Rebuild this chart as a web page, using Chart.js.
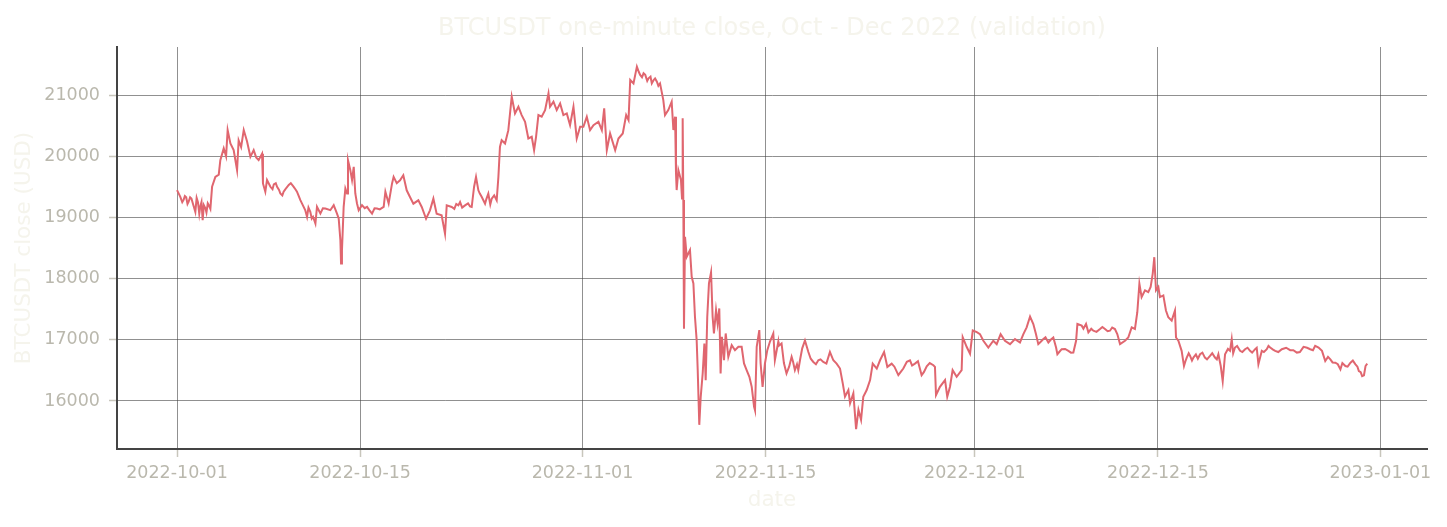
<!DOCTYPE html>
<html>
<head>
<meta charset="utf-8">
<script src="https://cdn.jsdelivr.net/npm/chart.js@4.4.1/dist/chart.umd.min.js"></script>
<style>
  html, body { margin: 0; padding: 0; background: #fff; }
  #wrap { width: 1447px; height: 527px; }
</style>
</head>
<body>
<div id="wrap"><canvas id="chart" width="1447" height="527"></canvas></div>
<script>
// days since 2022-10-01 00:00 and close in USD
const days = [
  0, 0.25, 0.51, 0.7, 0.89, 1.1, 1.4, 1.6, 1.78, 1.96, 2.17, 2.35, 2.55, 2.68, 2.93, 3.19, 3.31, 3.57, 3.75, 3.87,
  4.08, 4.33, 4.59, 4.71, 4.9, 5.1, 5.35, 5.61, 5.86, 6.05, 6.24, 6.5, 6.57, 6.75, 6.88, 7.14, 7.4, 7.65, 7.9, 8.15,
  8.35, 8.54, 8.92, 9.17, 9.43, 9.68, 9.94, 10.19, 10.4, 10.58, 10.7, 10.96, 11.15, 11.34, 11.72, 11.98, 12.23, 12.36, 12.49, 12.54,
  12.61, 12.74, 12.87, 13.0, 13.07, 13.25, 13.38, 13.51, 13.63, 13.76, 13.89, 14.14, 14.35, 14.53, 14.7, 14.91, 15.1, 15.29, 15.5, 15.8,
  15.93, 16.18, 16.44, 16.56, 16.8, 17.05, 17.3, 17.56, 17.81, 18.07, 18.45, 18.71, 19.04, 19.34, 19.6, 19.85, 20.23, 20.49, 20.62, 21.0,
  21.51, 21.64, 22.02, 22.53, 22.71, 22.86, 23.04, 23.3, 23.55, 23.8, 24.06, 24.44, 24.57, 24.69, 24.82, 25.08, 25.33, 25.46, 25.59, 25.84,
  26.1, 26.35, 26.61, 26.86, 27.12, 27.3, 27.45, 27.63, 27.88, 28.14, 28.4, 28.52, 28.78, 29.03, 29.29, 29.54, 29.8, 30.05, 30.31, 30.56,
  30.82, 31.07, 31.33, 31.58, 31.84, 32.22, 32.48, 32.66, 32.86, 33.11, 33.5, 33.75, 34.08, 34.34, 34.52, 34.65, 34.9, 35.16, 35.41, 35.67,
  36.05, 36.44, 36.69, 36.93, 37.18, 37.31, 37.56, 37.82, 37.95, 38.08, 38.15, 38.2, 38.33, 38.53, 38.61, 38.66, 38.71, 38.76, 38.84, 38.97,
  39.22, 39.35, 39.48, 39.6, 39.73, 39.81, 39.93, 40.04, 40.19, 40.32, 40.42, 40.54, 40.67, 40.83, 40.95, 41.05, 41.21, 41.33, 41.46, 41.56,
  41.66, 41.82, 41.95, 42.15, 42.41, 42.66, 42.92, 43.17, 43.35, 43.55, 43.76, 43.94, 44.12, 44.19, 44.32, 44.52, 44.62, 44.77, 44.95, 45.13,
  45.33, 45.59, 45.71, 45.97, 46.22, 46.6, 46.99, 47.24, 47.5, 47.63, 48.01, 48.27, 48.65, 49.03, 49.41, 49.92, 50.18, 50.43, 50.69, 50.9,
  51.07, 51.33, 51.46, 51.71, 51.92, 52.1, 52.3, 52.47, 52.73, 52.99, 53.19, 53.5, 53.75, 54.06, 54.31, 54.64, 55.15, 55.53, 56.04, 56.42,
  56.93, 57.32, 57.83, 57.95, 58.03, 58.33, 58.72, 58.89, 59.1, 59.3, 59.61, 59.99, 60.07, 60.38, 60.63, 60.84, 61.15, 61.39, 61.65, 62.03,
  62.41, 62.67, 62.97, 63.3, 63.69, 64.07, 64.45, 64.71, 64.96, 65.22, 65.47, 65.67, 65.85, 66.24, 66.62, 67.0, 67.21, 67.31, 67.64, 68.15,
  68.53, 68.74, 68.84, 69.17, 69.5, 69.68, 70.06, 70.57, 70.95, 71.33, 71.71, 71.89, 72.1, 72.48, 72.73, 72.99, 73.24, 73.42, 73.58, 73.75,
  74.01, 74.26, 74.44, 74.6, 74.72, 74.85, 75.03, 75.15, 75.41, 75.61, 75.79, 76.05, 76.3, 76.38, 76.56, 76.81, 76.99, 77.2, 77.45, 77.71,
  78.22, 78.59, 78.98, 79.36, 79.62, 79.8, 79.95, 80.13, 80.51, 80.64, 80.89, 81.28, 81.66, 82.04, 82.43, 82.68, 82.94, 83.32, 83.58, 83.96,
  84.47, 85.11, 85.62, 86.13, 86.64, 87.02, 87.28, 87.54, 87.79, 88.18, 88.56, 88.95, 89.33, 89.72, 90.1, 90.36, 90.61, 90.87, 91.0,
];
const closes = [
  19445, 19336, 19290, 19330, 19260, 19310, 19090, 19250, 19180, 18955, 19150, 19230, 19140, 19500, 19663, 19700, 19936, 20128, 20000, 20427,
  20210, 20100, 19772, 20260, 20150, 20427, 20245, 19990, 20100, 19980, 19936, 20040, 19555, 19420, 19610, 19500, 19540, 19500, 19391, 19420,
  19480, 19530, 19500, 19420, 19282, 19173, 19008, 19090, 19010, 18900, 19173, 19063, 19150, 19145, 19118, 19200, 19063, 18982, 18627, 18245,
  18460, 19173, 19473, 19391, 19936, 19772, 19610, 19827, 19391, 19227, 19118, 19200, 19150, 19173, 19120, 19063, 19150, 19145, 19130, 19173,
  19420, 19227, 19555, 19663, 19560, 19607, 19689, 19443, 19333, 19224, 19279, 19170, 18978, 19115, 19306, 19060, 19033, 18732, 19197, 19170,
  19197, 19251, 19197, 19170, 19497, 19661, 19443, 19333, 19224, 19388, 19306, 19279, 19661, 20153, 20262, 20208, 20426, 20699, 20973, 20699,
  20809, 20672, 20563, 20290, 20317, 20098, 20317, 20672, 20645, 20754, 21027, 20809, 20891, 20754, 20863, 20672, 20699, 20508, 20809, 20290,
  20481, 20481, 20645, 20426, 20508, 20563, 20426, 20781, 20098, 20372, 20098, 20290, 20372, 20672, 20590, 21246, 21191, 21464, 21328, 21355,
  21273, 21246, 21218, 21190, 20918, 20673, 20755, 20891, 20428, 20646, 19719, 19447, 19774, 19610, 19310, 20620, 19283, 17180, 18684, 18357,
  18466, 18030, 17921, 17376, 16994, 16504, 15610, 16068, 16449, 16940, 16340, 17376, 17921, 18100, 17376, 17103, 17485, 17267, 17512, 16449,
  17049, 16667, 17103, 16721, 16912, 16830, 16885, 16885, 16613, 16504, 16395, 16231, 15905, 15850, 16885, 17158, 16613, 16231, 16613, 16830,
  16967, 17103, 16667, 16967, 16940, 16449, 16721, 16504, 16504, 16665, 16989, 16800, 16638, 16665, 16638, 16800, 16665, 16611, 16530, 16287,
  16070, 16178, 15962, 16124, 15540, 15854, 15692, 16070, 16178, 16341, 16611, 16530, 16665, 16800, 16557, 16611, 16422, 16530, 16665, 16611,
  16422, 16568, 16584, 16557, 16097, 16232, 16341, 16070, 16232, 16503, 16395, 16503, 17043, 16881, 16773, 17151, 17124, 17093, 16984, 16874,
  16984, 16929, 17093, 16984, 16929, 17011, 16956, 17093, 17203, 17380, 17258, 17093, 16929, 17011, 16956, 17038, 16874, 16764, 16846, 16819,
  16791, 16984, 17258, 17231, 17258, 17121, 17148, 17176, 17176, 17148, 17176, 17093, 16929, 16984, 17038, 17203, 17176, 17450, 17918, 17698,
  17808, 17780, 17863, 18082, 18350, 17808, 17863, 17698, 17725, 17478, 17368, 17313, 17478, 17038, 16984, 16819, 16571, 16709, 16740, 16709,
  16764, 16709, 16736, 16709, 16764, 16571, 16324, 16764, 16819, 17011, 16874, 16819, 16846, 16819, 16846, 16599, 16819, 16846, 16874, 16819,
  16846, 16830, 16791, 16885, 16846, 16901, 16874, 16819, 16654, 16681, 16626, 16516, 16571, 16626, 16599, 16489, 16406, 16571, 16610,
];

// finer readings of the noise band in a few stretches, merged in by date below
const detailDays = [
  0.15, 0.4, 0.6, 0.8, 1.0, 1.25, 1.5, 1.7, 1.87, 2.05, 2.25, 2.45,
  7.3, 7.55, 7.8, 8.05, 8.25, 8.7, 9.05, 9.3, 9.55, 9.8, 10.05, 10.3,
  21.2, 21.35, 21.8, 22.25, 22.4, 23.15, 23.65, 23.95, 24.25,
  35.3, 35.55, 35.8, 35.95, 36.2, 36.3, 36.55, 36.8,
  46.0, 46.4, 46.8, 47.1, 47.4, 47.8, 48.45, 48.85, 49.2, 49.65,
  54.85, 55.35, 55.8, 56.2, 56.65, 57.1, 57.55,
  66.0, 66.4, 66.8, 67.45, 67.9, 68.35, 69.3, 69.9, 70.3, 70.75, 71.15, 71.5,
  77.1, 77.35, 77.6, 77.9, 78.05, 78.4, 78.75, 79.15, 79.5, 80.35, 80.75, 81.05, 81.45, 81.85, 82.2, 82.55,
  83.1, 83.45, 83.8, 84.2, 84.8, 85.35, 85.85, 86.4, 86.85, 88.0, 88.35, 88.75, 89.1, 89.5, 89.9, 90.25, 90.5, 90.75,
];
const detailCloses = [
  19380, 19250, 19350, 19220, 19330, 19200, 19320, 19060, 19250, 19200, 19080, 19190,
  19460, 19560, 19450, 19360, 19450, 19560, 19460, 19350, 19230, 19120, 19160, 18980,
  19140, 19220, 19160, 19230, 19180, 19390, 19300, 19210, 19360,
  21380, 21290, 21330, 21230, 21300, 21190, 21270, 21150,
  16900, 16620, 16560, 16640, 16600, 16860, 16690, 16600, 16680, 16610,
  16560, 16480, 16640, 16580, 16650, 16470, 16620,
  16960, 17040, 17000, 16800, 16850, 16790, 17180, 17180, 17130, 17210, 17140, 17200,
  16650, 16780, 16660, 16760, 16690, 16790, 16680, 16780, 16680, 16850, 16780, 16900, 16800, 16870, 16790, 16870,
  16800, 16900, 16840, 16800, 16870, 16830, 16800, 16870, 16830, 16720, 16630, 16600, 16620, 16560, 16660, 16560, 16470, 16420,
];

const tickDays = [0, 14, 31, 45, 61, 75, 92];
const tickLabels = ["2022-10-01", "2022-10-15", "2022-11-01", "2022-11-15", "2022-12-01", "2022-12-15", "2023-01-01"];
const yTicks = [16000, 17000, 18000, 19000, 20000, 21000];

const TITLE = "BTCUSDT one-minute close, Oct - Dec 2022 (validation)";
const FONT = "'DejaVu Sans', sans-serif";
const TICK_COLOR = "#bab8ad";
const FAINT = "#f5f4ec";
const GRID = "rgba(70,70,70,0.6)";

const points = days
  .map((d, i) => ({ x: d, y: closes[i] }))
  .concat(detailDays.map((d, i) => ({ x: d, y: detailCloses[i] })))
  .sort((a, b) => a.x - b.x);

const titlePlugin = {
  id: "plotTitle",
  afterDraw(chart) {
    const { ctx, chartArea } = chart;
    ctx.save();
    ctx.font = `24px ${FONT}`;
    ctx.fillStyle = FAINT;
    ctx.textAlign = "center";
    ctx.textBaseline = "alphabetic";
    ctx.fillText(TITLE, (chartArea.left + chartArea.right) / 2, 35);
    ctx.restore();
  },
};

new Chart(document.getElementById("chart"), {
  type: "line",
  data: {
    datasets: [
      {
        label: "close",
        data: points,
        borderColor: "#e0666f",
        borderWidth: 2,
        pointRadius: 0,
        tension: 0,
        fill: false,
      },
    ],
  },
  options: {
    responsive: false,
    animation: false,
    devicePixelRatio: 1,
    layout: { padding: { top: 47, right: 20, left: 0, bottom: 0 } },
    plugins: { legend: { display: false }, tooltip: { enabled: false }, title: { display: false } },
    scales: {
      x: {
        type: "linear",
        min: -4.59,
        max: 95.57,
        afterBuildTicks: (scale) => { scale.ticks = tickDays.map((v) => ({ value: v })); },
        afterFit: (scale) => { scale.height = 78; },
        ticks: {
          color: TICK_COLOR,
          font: { family: FONT, size: 17.5 },
          padding: 6,
          maxRotation: 0,
          autoSkip: false,
          callback: (v) => tickLabels[tickDays.indexOf(v)],
        },
        grid: { color: GRID, lineWidth: 1, tickColor: "#c8c6bc", tickLength: 8, tickWidth: 1.5 },
        border: { display: true, color: "#444", width: 2 },
        title: { display: true, text: "date", color: FAINT, font: { family: FONT, size: 21.5 }, padding: { top: 0, bottom: 14 } },
      },
      y: {
        type: "linear",
        min: 15215,
        max: 21785,
        afterBuildTicks: (scale) => { scale.ticks = yTicks.map((v) => ({ value: v })); },
        afterFit: (scale) => { scale.width = 117; },
        ticks: {
          color: TICK_COLOR,
          font: { family: FONT, size: 17.5 },
          padding: 9,
          callback: (v) => String(v),
        },
        grid: { color: GRID, lineWidth: 1, tickColor: "#c8c6bc", tickLength: 8, tickWidth: 1.5 },
        border: { display: true, color: "#444", width: 2 },
        title: { display: true, text: "BTCUSDT close (USD)", color: FAINT, font: { family: FONT, size: 21.5 }, padding: { top: 12, bottom: 0 } },
      },
    },
  },
  plugins: [titlePlugin],
});
</script>
</body>
</html>
